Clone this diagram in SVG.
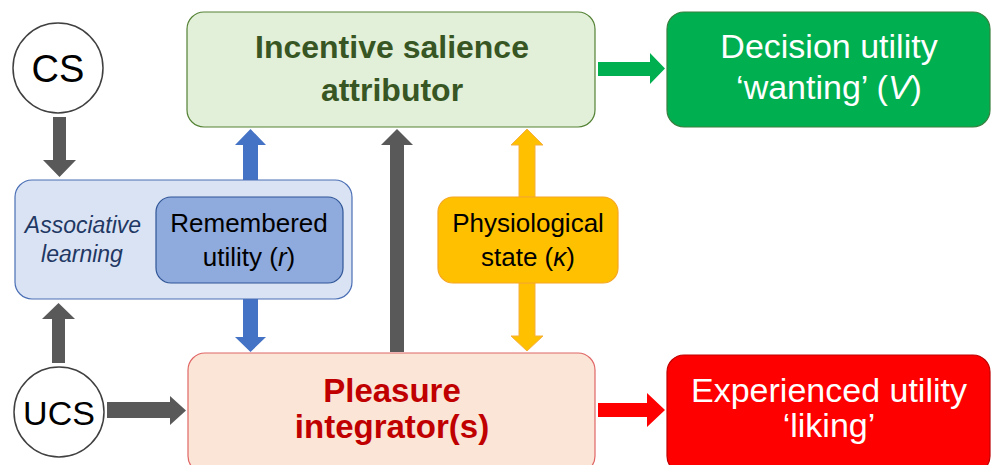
<svg xmlns="http://www.w3.org/2000/svg" width="993" height="465" viewBox="0 0 993 465">
<style>
text{font-family:"Liberation Sans",Arial,sans-serif;text-anchor:middle}
.circ{fill:#fff;stroke:#404040;stroke-width:1.5}
.gray{fill:#595959}
.blue{fill:#4472c4}
.orange{fill:#ffc000;stroke:#f5b041;stroke-width:1}
.green{fill:#00b050}
.red{fill:#ff0000}
.big{font-size:34px}
.mid{font-size:26px}
</style>
<rect width="993" height="465" fill="#fff"/>
<g id="connectors">
  <polygon class="gray" points="53,117 66,117 66,160 76,160 59.5,177 43,160 53,160"/>
  <polygon class="gray" points="52,363 65,363 65,319 75,319 58.5,303 42,319 52,319"/>
  <polygon class="gray" points="107,402 170,402 170,396 186,410.5 170,425 170,418 107,418"/>
  <polygon class="gray" points="390,352 404,352 404,145 413,145 397,129 381,145 390,145"/>
  <polygon class="blue" points="243,197 258,197 258,145 266,145 250.5,129 235,145 243,145"/>
  <polygon class="blue" points="243,283 258,283 258,337 266,337 250.5,352 235,337 243,337"/>
  <polygon class="orange" points="519,197 535,197 535,145 543,145 527,129 511,145 519,145"/>
  <polygon class="orange" points="519,283 535,283 535,336 543,336 527,351 511,336 519,336"/>
  <polygon class="green" points="598,62 650,62 650,53 665,68.5 650,84 650,76 598,76"/>
  <polygon class="red" points="598,403 647,403 647,393 665,410 647,427 647,417 598,417"/>
</g>
<g id="cs">
  <circle class="circ" cx="58" cy="68" r="45"/>
  <text x="58" y="82" font-size="38">CS</text>
</g>
<g id="ucs">
  <circle class="circ" cx="59" cy="412" r="45"/>
  <text x="59" y="425" font-size="34">UCS</text>
</g>
<g id="associative">
  <rect x="15" y="180" width="337" height="119" rx="17" fill="#dae3f3" stroke="#4a6fb5" stroke-width="1.2"/>
  <text x="83" y="233" font-size="23" font-style="italic" fill="#1f3864">Associative</text>
  <text x="82" y="262" font-size="23" font-style="italic" fill="#1f3864">learning</text>
</g>
<g id="remembered">
  <rect x="156" y="197" width="187" height="86" rx="15" fill="#8faadc" stroke="#2f5597" stroke-width="1.2"/>
  <text class="mid" x="249" y="232">Remembered</text>
  <text class="mid" x="249" y="266">utility (<tspan font-style="italic">r</tspan>)</text>
</g>
<g id="incentive">
  <rect x="187" y="12" width="408" height="115" rx="17" fill="#e2f0d9" stroke="#548235" stroke-width="1.2"/>
  <text x="392" y="58" font-size="32" font-weight="bold" fill="#375623">Incentive salience</text>
  <text x="392" y="101" font-size="32" font-weight="bold" fill="#375623">attributor</text>
</g>
<g id="decision">
  <rect x="667" y="12" width="323" height="115" rx="17" fill="#00b050" stroke="#38803f" stroke-width="1.2"/>
  <text class="big" x="829" y="58" fill="#fff">Decision utility</text>
  <text class="big" x="829" y="99" fill="#fff">‘wanting’ (<tspan font-style="italic">V</tspan>)</text>
</g>
<g id="physiological">
  <rect x="438" y="197" width="180" height="86" rx="15" fill="#ffc000" stroke="#f5a623" stroke-width="1.2"/>
  <text class="mid" x="528" y="232">Physiological</text>
  <text class="mid" x="528" y="266">state (<tspan font-style="italic">κ</tspan>)</text>
</g>
<g id="pleasure">
  <rect x="188" y="353" width="407" height="120" rx="17" fill="#fbe5d6" stroke="#e06666" stroke-width="1.2"/>
  <text x="392" y="402" font-size="33" font-weight="bold" fill="#c00000">Pleasure</text>
  <text x="392" y="438" font-size="33" font-weight="bold" fill="#c00000">integrator(s)</text>
</g>
<g id="experienced">
  <rect x="667" y="355" width="323" height="118" rx="17" fill="#ff0000" stroke="#c00000" stroke-width="1.2"/>
  <text class="big" x="829" y="402" fill="#fff">Experienced utility</text>
  <text class="big" x="829" y="437" fill="#fff">‘liking’</text>
</g>
</svg>
